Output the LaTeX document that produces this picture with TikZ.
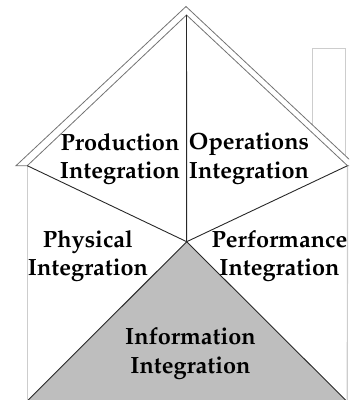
\documentclass[tikz,border=0pt]{standalone}
\usepackage[T1]{fontenc}
\usepackage{mathpazo}
\usepackage{xcolor}
\usepackage{tikz}
\definecolor{roofgray}{RGB}{115, 115, 115}
\definecolor{wallgray}{RGB}{205, 205, 205}
\definecolor{infogray}{RGB}{190, 190, 190}
\definecolor{darkline}{RGB}{40, 40, 40}

\begin{document}
\begin{tikzpicture}[x=1pt,y=-1pt,
    roofline/.style={draw=roofgray,line width=0.8pt},
    wallline/.style={draw=wallgray,line width=1.2pt},
    splitline/.style={draw=darkline,line width=0.9pt},
    areatext/.style={font=\fontsize{23.5}{28.5}\selectfont\bfseries,align=center,inner sep=0pt}]
    \useasboundingbox (0,0) rectangle (349,400);
    \clip (0,0) rectangle (349,400);

    % Key points of the house
    \coordinate (apexout) at (186,6.5);
    \coordinate (apexin) at (186.5,15);
    \coordinate (eaveleftout) at (16,165.7);
    \coordinate (eaveleft) at (27.3,165.7);
    \coordinate (eaveright) at (347.5,165.7);
    \coordinate (eaverightout) at (356,165.7);
    \coordinate (hub) at (186.7,241.7);
    \coordinate (footleft) at (28.3,400);
    \coordinate (footright) at (345.5,400);

    % Information wedge
    \fill[infogray] (hub) -- (footleft) -- (footright) -- cycle;
    \draw[splitline] (footleft) -- (hub) -- (footright);

    % Walls and chimney
    \draw[wallline] (eaveleft) -- (27.3,400);
    \draw[wallline] (eaveright) -- (347.3,400);
    \draw[wallline] (312.3,124.8) -- (312.3,48.3) -- (345.7,48.3) -- (345.7,156.1);

    % Roof
    \draw[roofline] (eaveleft) -- (eaveleftout) -- (apexout) -- (eaverightout) -- (eaveright);
    \draw[roofline] (eaveleft) -- (apexin) -- (eaveright);

    % Dividers
    \draw[splitline] (apexin) -- (hub);
    \draw[splitline] (eaveleft) -- (hub) -- (eaveright);

    % Labels
    \node[areatext] (production) at (120,159) {Production\\Integration};
    \node[areatext] (operations) at (249,159) {Operations\\Integration};
    \node[areatext] (physical) at (88,256) {Physical\\Integration};
    \node[areatext] (performance) at (279.5,256) {Performance\\Integration};
    \node[areatext] (information) at (190.5,353.5) {Information\\Integration};
\end{tikzpicture}
\end{document}
